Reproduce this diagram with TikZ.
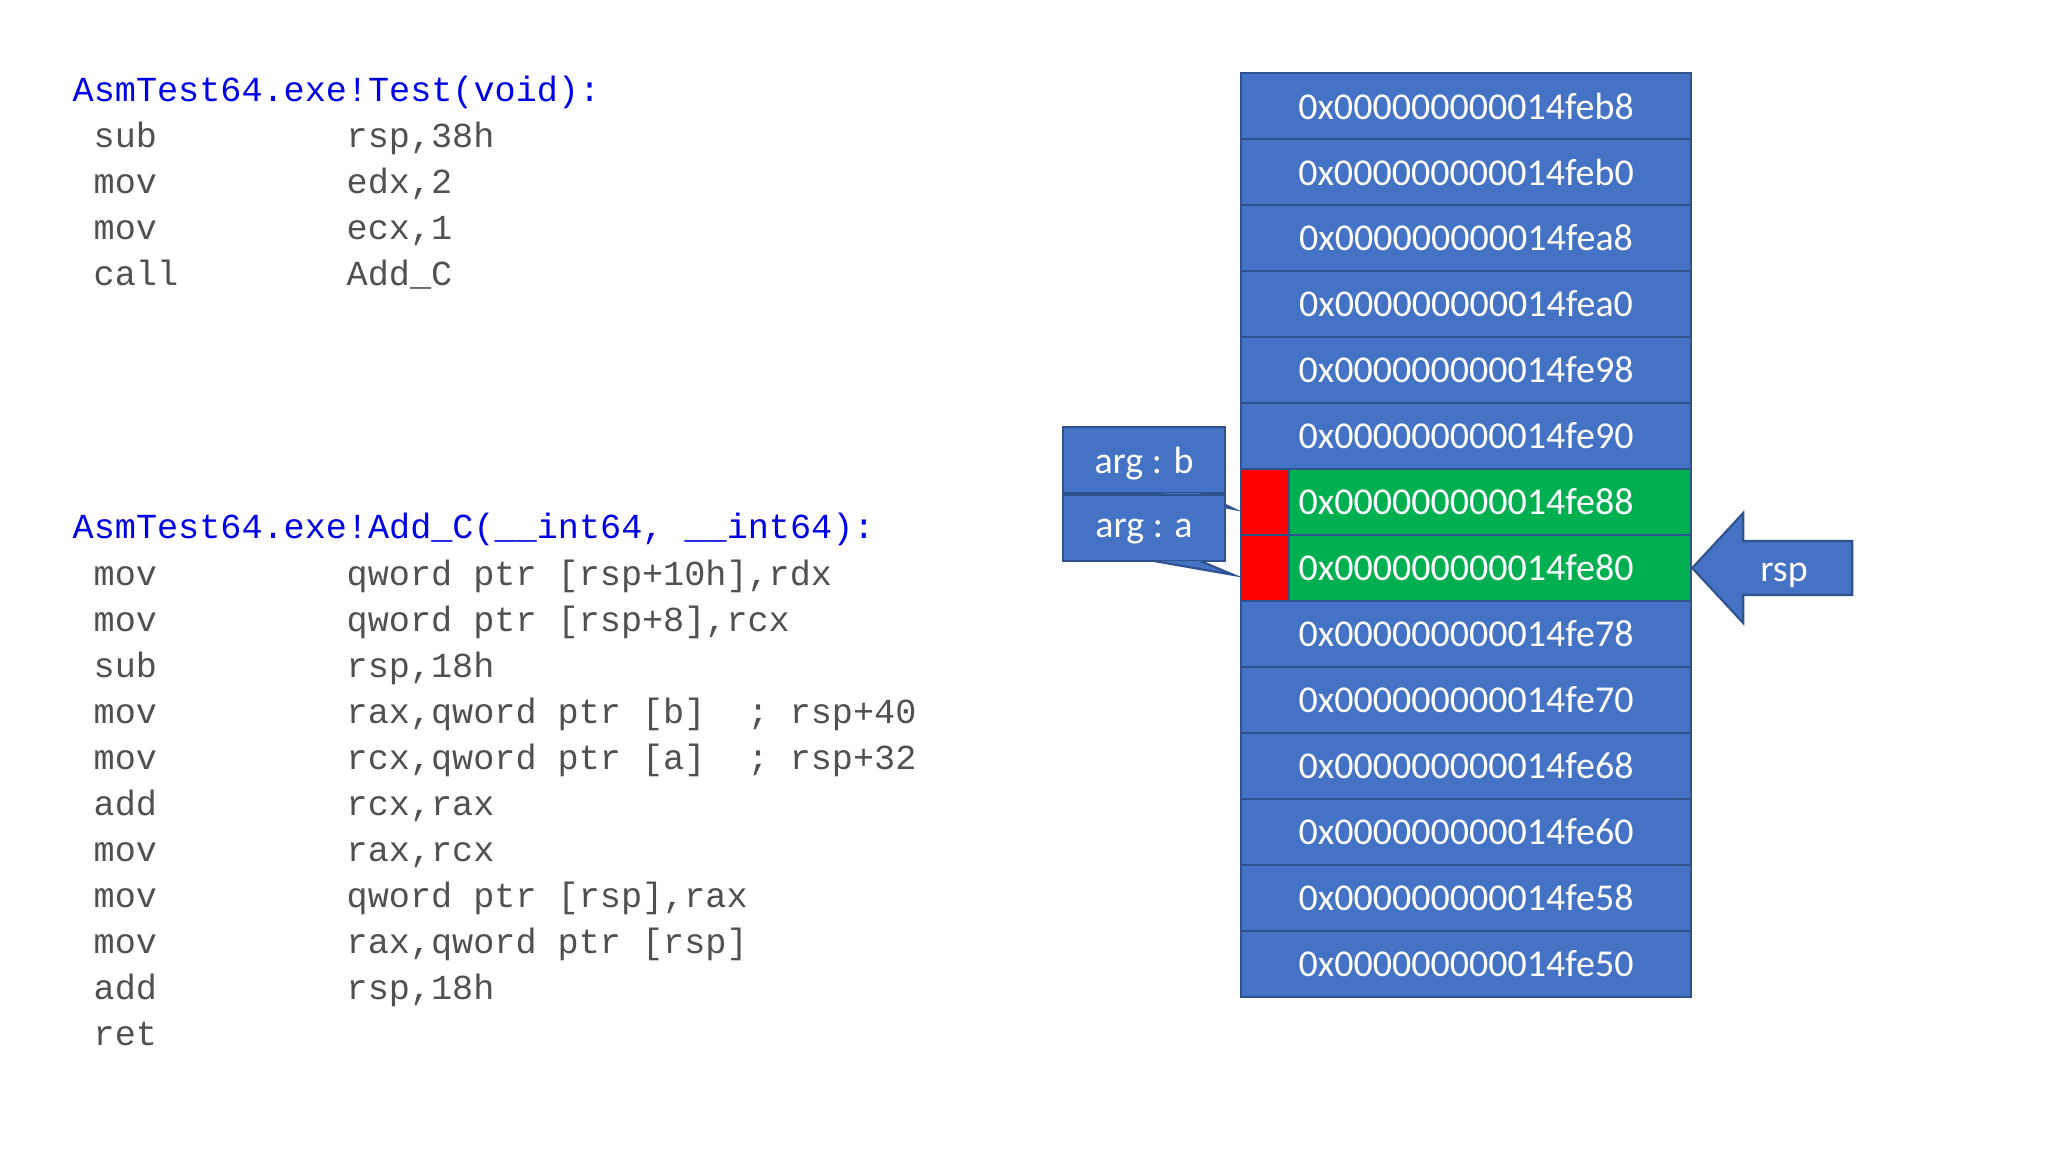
\documentclass[tikz,border=0pt]{standalone}
\usepackage{fontspec}
\setmainfont{Carlito}
\setmonofont{Liberation Mono}
\usetikzlibrary{positioning,calc}
\definecolor{cellblue}{HTML}{4472C4}
\definecolor{celledge}{HTML}{2F528F}
\definecolor{cellgreen}{HTML}{00B050}
\definecolor{cellred}{HTML}{FF0000}
\definecolor{asmblue}{HTML}{0000E6}
\definecolor{asmgrey}{HTML}{505050}
\begin{document}
\begin{tikzpicture}[x=0.01cm, y=-0.01cm,
    cell/.style={draw=celledge, line width=0.6pt, fill=cellblue, minimum width=4.5cm, minimum height=0.66cm, inner sep=0pt, text=white, font=\fontsize{10.8}{13}\selectfont},
    argbox/.style={cell, minimum width=1.62cm, text depth=0pt},
    wedge/.style={draw=celledge, line width=0.6pt, fill=cellblue, line join=miter},
    asmhead/.style={anchor=base west, inner sep=0pt, text=asmblue, font=\ttfamily\fontsize{10}{12}\selectfont},
    asmop/.style={asmhead, text=asmgrey}
]
    \useasboundingbox[fill=white] (0,0) rectangle (2048,1152);

    \node[asmhead] (t1) at (72,102) {AsmTest64.exe!Test(void):};
    \foreach \mn/\op [count=\k] in {sub/{rsp,38h}, mov/{edx,2}, mov/{ecx,1}, call/{Add\_C}} {
        \node[asmop] (a\k) at (93,{102+46*\k}) {\mn};
        \node[asmop] (b\k) at (346,{102+46*\k}) {\op};
    }

    \node[asmhead] (t2) at (72,539) {AsmTest64.exe!Add\_C(\_\_int64, \_\_int64):};
    \foreach \mn/\op [count=\k] in {mov/{qword ptr [rsp+10h],rdx}, mov/{qword ptr [rsp+8],rcx}, sub/{rsp,18h},
        mov/{rax,qword ptr [b]\ \ ; rsp+40}, mov/{rcx,qword ptr [a]\ \ ; rsp+32}, add/{rcx,rax}, mov/{rax,rcx},
        mov/{qword ptr [rsp],rax}, mov/{rax,qword ptr [rsp]}, add/{rsp,18h}, ret/{}} {
        \node[asmop] (c\k) at (93,{539+46*\k}) {\mn};
        \node[asmop] (d\k) at (346,{539+46*\k}) {\op};
    }

    \foreach \addr/\col [count=\i from 0] in {b8/cellblue, b0/cellblue, a8/cellblue, a0/cellblue, 98/cellblue, 90/cellblue,
        88/cellgreen, 80/cellgreen, 78/cellblue, 70/cellblue, 68/cellblue, 60/cellblue, 58/cellblue, 50/cellblue}
        \node[cell, fill=\col] (r\i) at (1466,{106+66*\i}) {0x000000000014fe\addr};
    \node[cell, fill=cellred, minimum width=0.48cm, anchor=west] (m6) at (r6.west) {};
    \node[cell, fill=cellred, minimum width=0.48cm, anchor=west] (m7) at (r7.west) {};

    \node[argbox] (argb) at (1144,460) {arg : b};
    \filldraw[wedge] ($(argb.south west)+(93,-1)$) -- ($(r6.west)+(-6,7)$) -- ($(argb.south west)+(139,-1)$);
    \node[argbox, below=0pt of argb] (arga) {arg : a};
    \filldraw[wedge] ($(arga.south west)+(93,-1)$) -- ($(r7.west)+(-6,7)$) -- ($(arga.south west)+(139,-1)$);

    \filldraw[wedge] (r7.east) -- ++(51,-55) -- ++(0,28) -- ++(109,0) -- ++(0,54) -- ++(-109,0) -- ++(0,28) -- cycle;
    \node[anchor=base, text=white, font=\fontsize{10.8}{13}\selectfont] (rsp) at (1784,581) {rsp};
\end{tikzpicture}
\end{document}
